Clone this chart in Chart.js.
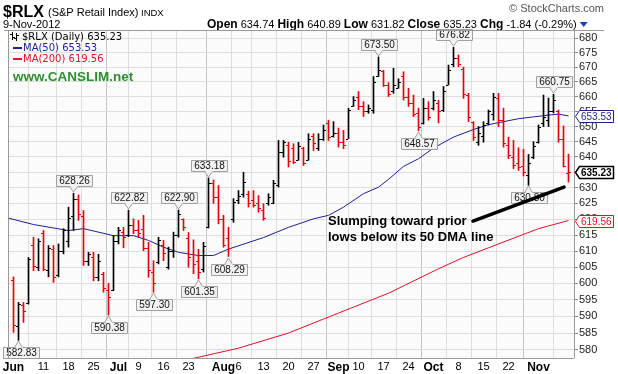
<!DOCTYPE html>
<html><head><meta charset="utf-8">
<script src="https://cdn.jsdelivr.net/npm/chart.js@4.4.1/dist/chart.umd.min.js"></script>
<style>html,body{margin:0;padding:0;background:#fff}canvas{display:block}</style>
</head><body>
<canvas id="c" width="618" height="374"></canvas>
<script>
// ---------- data ----------
const dates = [
 'Jun 1','Jun 4','Jun 5','Jun 6','Jun 7','Jun 8','Jun 11','Jun 12','Jun 13','Jun 14','Jun 15','Jun 18','Jun 19','Jun 20','Jun 21','Jun 22','Jun 25','Jun 26','Jun 27','Jun 28','Jun 29',
 'Jul 2','Jul 3','Jul 5','Jul 6','Jul 9','Jul 10','Jul 11','Jul 12','Jul 13','Jul 16','Jul 17','Jul 18','Jul 19','Jul 20','Jul 23','Jul 24','Jul 25','Jul 26','Jul 27','Jul 30','Jul 31',
 'Aug 1','Aug 2','Aug 3','Aug 6','Aug 7','Aug 8','Aug 9','Aug 10','Aug 13','Aug 14','Aug 15','Aug 16','Aug 17','Aug 20','Aug 21','Aug 22','Aug 23','Aug 24','Aug 27','Aug 28','Aug 29','Aug 30','Aug 31',
 'Sep 4','Sep 5','Sep 6','Sep 7','Sep 10','Sep 11','Sep 12','Sep 13','Sep 14','Sep 17','Sep 18','Sep 19','Sep 20','Sep 21','Sep 24','Sep 25','Sep 26','Sep 27','Sep 28',
 'Oct 1','Oct 2','Oct 3','Oct 4','Oct 5','Oct 8','Oct 9','Oct 10','Oct 11','Oct 12','Oct 15','Oct 16','Oct 17','Oct 18','Oct 19','Oct 22','Oct 23','Oct 24','Oct 25','Oct 26','Oct 31',
 'Nov 1','Nov 2','Nov 5','Nov 6','Nov 7','Nov 8','Nov 9'];

const openP = [601,587,593.5,594,612,605,615.5,604,610.5,602.5,610,613,621,626.5,621,607,608,602,603,598,598,
 613,616,615,618,616.5,617,611,603.5,606.5,612,605,610,615,620,614,609,607,604.5,617.4,631.5,627,
 620,614,620,626,628,628,626,625,623,625,625,631,641.5,644,643,639,643,639,647,643,646,651,647,
 648,645,646,657,660,657,655,655.5,667,668.5,664,662,663,667,660,658,654.5,651,656,
 656,658,655.5,664,671,673,669.5,660.5,651.5,645,647,651,654,659.5,652,644,640,638,637,634,640,
 645,651,652,655,655,646,634.74];
const highP = [602,594.2,594.2,608,614.3,613.8,616.4,611.7,611.7,612.2,617,623.8,628.26,627.7,622.7,609.6,609.6,609,603.4,600,614.8,
 617.4,617.4,622.82,620.1,619.6,621.2,612.7,607,614.3,613.3,611.2,615.9,622.9,620.1,615.8,613.5,610.5,612.7,633.18,632.5,630.7,
 621.2,617.4,626.5,629.1,635,628.9,629.1,627.5,624.9,628.1,632.4,645.4,645.4,644.8,644.3,644.8,643.2,647.6,647.6,647.6,650.5,652.1,651.6,
 649.5,648.7,656.1,660,661.7,658.3,657.2,666.8,673.5,668.9,664.7,669.6,666,668.4,662.8,660.5,656.1,659.4,658.3,
 661.7,658.8,663.4,670.7,676.82,674.2,670,661.1,651.6,650,651.6,655.5,661.1,661.1,656.1,646.5,645.4,643,642.5,640.8,645,
 650.5,660.5,659.5,660.75,655.5,650.2,640.89];
const lowP = [585.2,582.83,588.2,593.7,603.9,603.9,603.9,602,600.3,602,609.1,611.2,616.4,619.6,605.5,605.5,600.8,600.8,597.3,590.38,597.8,
 612.2,611,614.5,615.4,614.3,610.1,601.9,597.3,606,607,604.4,608,614.3,616.4,605,603,601.35,603.5,617.2,625,618.5,
 611.2,608.29,619,624.9,627,623.8,623.8,622.2,619.6,624.4,624.9,630.2,639.9,636.7,637.8,638.9,637.2,638.9,642.1,642.1,645.4,645.4,646.5,
 643.2,642.7,646,656.7,655.6,653.3,654.4,654.4,666.8,663.4,660,661.1,662.8,658.8,656.7,653.3,648.57,650.8,652.1,
 655.5,651.2,655,663.9,670.1,670.1,659.4,651.6,645.4,643.8,644.8,650.5,652.1,650,643.2,639.4,636.2,635.6,633.8,630.8,639.4,
 644.5,650,650,654.5,644.8,636.7,631.82];
const closeP = [587.5,593.7,591.5,607.5,605.5,613,604.5,611,602,610,616.5,620.5,626.5,621.5,607,609,602,607,598.5,596,613,
 616.5,614.5,618,616.5,615.5,611,604,600,613.5,609.5,610,615,621.5,617.5,608,606,603.5,611.5,631.5,627,620,
 612,611,625.5,627.5,632,625,624.5,623.5,620.5,627,631.5,641.5,644.8,638.5,638.2,643.5,638,646,644.5,646,649,646.5,648,
 645,644,655.5,659,657,655,656,665,669,664,661,664,665,660,658,654,650,656,653,
 659,655,662,669,673,671,661,653,646.5,648,650.5,655,660,652,644.5,640.5,637.5,636.8,635,638,643.5,
 650,653,655,659,646,637.07,635.23];

// moving averages ([day index, value])
const ma50Idx = [-1,4,11,14,20,24,27,30,33,37,40,43,50,55,60,63,66,70,73,75,78,81,84,88,92,95,98,101,104,107,109,111];
const ma50Val = [620.3,618.3,616.4,617.0,614.8,614.8,613.3,611.2,609.6,608.6,608.6,610.6,614.2,617.4,620.1,621.2,623.8,628.1,630.2,632.7,636.9,639.4,642.9,646.5,649.0,650.6,651.6,652.6,653.2,653.8,654.1,653.53];
const ma200Idx = [36,45,55,65,75,85,90,95,100,105,111];
const ma200Val = [577.5,580.5,585,591,597,604.5,608,611,614,617,619.56];

const yTicks = [580,585,590,595,600,605,610,615,620,625,630,635,640,645,650,655,660,665,670,675,680];
const xTickIdx = [0,6,11,16,21,25,30,35,42,45,50,55,60,65,69,74,79,84,89,94,99,105];
const xTickText = ['Jun','11','18','25','Jul','9','16','23','Aug','6','13','20','27','Sep','10','17','24','Oct','8','15','22','Nov'];
const monthTicks = ['Jun','Jul','Aug','Sep','Oct','Nov'];

// price annotations (bar index, which end)
const noteIdx  = [1,12,19,23,28,33,37,39,43,73,81,88,103,108];
const noteSide = ['low','high','low','high','low','high','low','high','low','high','low','high','low','high'];
// hand drawn trend line (day index, price)
const trendIdx = [91.9,110.1];
const trendVal = [619.4,630.2];

const last = closeP.length-1;
const upColor = '#000000', downColor = '#e8000b';
const barColors = closeP.map((c,i)=> (i===0 ? c>=openP[0] : c>=closeP[i-1]) ? upColor : downColor);
const FONT = '"Liberation Sans", Arial, sans-serif';

// ---------- plugins ----------
const bgPlugin = {
  id:'bg',
  beforeDraw(chart){
    const {ctx, chartArea:a} = chart;
    ctx.save();
    ctx.fillStyle='#ffffff'; ctx.fillRect(0,0,chart.width,chart.height);
    ctx.fillStyle='#fbfbfb'; ctx.fillRect(a.left,a.top,a.right-a.left,a.bottom-a.top);
    ctx.restore();
  }
};

const ohlcTicks = {
  id:'ohlcTicks',
  afterDatasetsDraw(chart){
    const {ctx, scales:{x,y}} = chart;
    ctx.save();
    for(let i=0;i<closeP.length;i++){
      const px = Math.floor(x.getPixelForValue(i));
      ctx.fillStyle = barColors[i];
      const yo = Math.round(y.getPixelForValue(openP[i]));
      const yc = Math.round(y.getPixelForValue(closeP[i]));
      ctx.fillRect(px-2, yo, 2, 1);
      ctx.fillRect(px+1, yc, 2, 1);
    }
    ctx.restore();
  }
};

const notesPlugin = {
  id:'notes',
  afterDatasetsDraw(chart){
    const {ctx, scales:{x,y}, chartArea:a} = chart;
    ctx.save();
    ctx.font = '10px '+FONT;
    ctx.textBaseline='middle'; ctx.textAlign='center';
    noteIdx.forEach((idx,k)=>{
      const val = noteSide[k]==='high' ? highP[idx] : lowP[idx];
      const txt = val.toFixed(2);
      const px = Math.floor(x.getPixelForValue(idx))+0.5;
      const py = y.getPixelForValue(val);
      const w = Math.round(ctx.measureText(txt).width)+5, h = 11;
      let bx = Math.round(px - w/2);
      if (bx < a.left-6) bx = a.left-6;
      let by, tipY, baseY;
      if(noteSide[k]==='high'){ by = Math.round(py) - 7 - h; baseY = by+h; tipY = Math.round(py)-1; }
      else { by = Math.round(py) + 7; baseY = by; tipY = Math.round(py)+1; }
      ctx.fillStyle='#f2f2f2'; ctx.strokeStyle='#a0a0a0'; ctx.lineWidth=1;
      ctx.beginPath(); ctx.moveTo(px-4,baseY+0.5); ctx.lineTo(px,tipY); ctx.lineTo(px+4,baseY+0.5); ctx.closePath();
      ctx.fill(); ctx.stroke();
      ctx.beginPath(); ctx.rect(bx+0.5,by+0.5,w,h); ctx.fill(); ctx.stroke();
      ctx.fillStyle='#f2f2f2'; ctx.fillRect(px-3, noteSide[k]==='high'? baseY-1: baseY, 7, 2);
      ctx.fillStyle='#111';
      ctx.fillText(txt, bx+w/2+0.5, by+h/2+1);
    });
    // trend line
    ctx.strokeStyle='#000'; ctx.lineWidth=3.5; ctx.lineCap='round';
    ctx.beginPath();
    ctx.moveTo(x.getPixelForValue(trendIdx[0]), y.getPixelForValue(trendVal[0]));
    ctx.lineTo(x.getPixelForValue(trendIdx[1]), y.getPixelForValue(trendVal[1]));
    ctx.stroke();
    // comment text
    ctx.fillStyle='#000'; ctx.textAlign='left'; ctx.textBaseline='alphabetic';
    ctx.font='bold 13px '+FONT;
    ctx.fillText('Slumping toward prior', 328, 225);
    ctx.fillText('lows below its 50 DMA line', 328, 241);
    ctx.restore();
  }
};

const framePlugin = {
  id:'frame',
  afterDraw(chart){
    const {ctx, chartArea:a, scales:{y}} = chart;
    ctx.save();
    // header
    ctx.fillStyle='#000'; ctx.textBaseline='alphabetic'; ctx.textAlign='left';
    ctx.font='bold 16px '+FONT;
    ctx.fillText('$RLX', 3, 17);
    ctx.font='11px '+FONT;
    ctx.fillText('(S&P Retail Index)', 48, 16);
    ctx.font='9.5px '+FONT;
    ctx.fillText('INDX', 141, 16);
    ctx.fillStyle='#555'; ctx.font='11px '+FONT; ctx.textAlign='right';
    ctx.fillText('\u00a9 StockCharts.com', 604, 12);
    ctx.textAlign='left'; ctx.fillStyle='#000';
    ctx.font='11px '+FONT;
    ctx.fillText('9-Nov-2012', 3, 28);
    const parts = [['Open',true],[' 634.74 ',false],['High',true],[' 640.89 ',false],['Low',true],[' 631.82 ',false],['Close',true],[' 635.23 ',false],['Chg',true],[' -1.84 (-0.29%)',false]];
    let tx = 207;
    parts.forEach(([t,b])=>{ ctx.font=(b?'bold 12px ':'11px ')+FONT; ctx.fillText(t,tx,28); tx+=ctx.measureText(t).width; });
    ctx.fillStyle='#1a3cc8'; ctx.beginPath(); ctx.moveTo(tx+3,22); ctx.lineTo(tx+11,22); ctx.lineTo(tx+7,27); ctx.closePath(); ctx.fill();
    // frame lines
    ctx.strokeStyle='#9a9a9a'; ctx.lineWidth=1;
    ctx.beginPath(); ctx.moveTo(4,a.top+0.5); ctx.lineTo(604,a.top+0.5); ctx.stroke();
    ctx.beginPath(); ctx.moveTo(a.left-0.5,a.top); ctx.lineTo(a.left-0.5,a.bottom); ctx.stroke();
    ctx.beginPath(); ctx.moveTo(a.right+0.5,a.top); ctx.lineTo(a.right+0.5,a.bottom); ctx.stroke();
    ctx.beginPath(); ctx.moveTo(a.left,a.bottom+0.5); ctx.lineTo(a.right,a.bottom+0.5); ctx.stroke();
    // legend
    ctx.font='10px "DejaVu Sans", Verdana, sans-serif'; ctx.textBaseline='middle';
    ctx.fillStyle='#000';
    ctx.fillRect(12,32,1,8); ctx.fillRect(10,34,2,1); ctx.fillRect(13,37,2,1);
    ctx.fillRect(16,33,1,8); ctx.fillRect(14,38,2,1); ctx.fillRect(17,35,2,1);
    ctx.fillText('$RLX (Daily) '+closeP[last].toFixed(2), 22, 37);
    ctx.fillStyle='#1f1f8f'; ctx.fillRect(13,47,9,2);
    ctx.fillText('MA(50) '+ma50Val[ma50Val.length-1].toFixed(2), 23, 48);
    ctx.fillStyle='#e0102a'; ctx.fillRect(13,58,9,2);
    ctx.fillText('MA(200) '+ma200Val[ma200Val.length-1].toFixed(2), 23, 59);
    ctx.fillStyle='#2f8f2f'; ctx.font='bold 13.5px '+FONT;
    ctx.fillText('www.CANSLIM.net', 13, 77);
    // right axis value tags
    const tags = [[ma50Val[ma50Val.length-1],'#1f1f8f',false],[closeP[last],'#000',true],[ma200Val[ma200Val.length-1],'#e0102a',false]];
    tags.forEach(([v,col,b])=>{
      const yy = Math.round(y.getPixelForValue(v))+0.5;
      const x0 = a.right+1.5, x1 = x0+4;
      ctx.font=(b?'bold 10px ':'10px ')+FONT;
      const x2 = Math.round(x1 + ctx.measureText(v.toFixed(2)).width + 3) + 0.5;
      ctx.beginPath(); ctx.moveTo(x0,yy); ctx.lineTo(x1,yy-6); ctx.lineTo(x2,yy-6); ctx.lineTo(x2,yy+6); ctx.lineTo(x1,yy+6); ctx.closePath();
      ctx.fillStyle='#fff'; ctx.fill(); ctx.strokeStyle=col; ctx.lineWidth=b?1.5:1; ctx.stroke();
      ctx.fillStyle= b? '#000': col;
      ctx.textBaseline='middle'; ctx.textAlign='left';
      ctx.fillText(v.toFixed(2), x1+1.5, yy+0.5);
    });
    ctx.restore();
  }
};

// ---------- chart ----------
const ohlcRange = closeP.map((c,i)=>({x:i, y:[lowP[i], highP[i]]}));
const ma50Pts = ma50Idx.map((d,k)=>({x:d, y:ma50Val[k]}));
const ma200Pts = ma200Idx.map((d,k)=>({x:d, y:ma200Val[k]}));

new Chart(document.getElementById('c'), {
  type:'bar',
  data:{
    datasets:[
      {type:'line', label:'MA(200)', data:ma200Pts, borderColor:'#e0102a', borderWidth:1, pointRadius:0, tension:0, order:3},
      {type:'line', label:'MA(50)', data:ma50Pts, borderColor:'#1f1f8f', borderWidth:1, pointRadius:0, tension:0, order:2},
      {type:'bar', label:'$RLX', data:ohlcRange, backgroundColor:barColors, borderWidth:0, barThickness:1, grouped:false, order:1}
    ]
  },
  options:{
    responsive:false, animation:false, devicePixelRatio:1,
    layout:{padding:{left:9, top:30, right:0, bottom:0}},
    plugins:{legend:{display:false}, tooltip:{enabled:false}},
    scales:{
      x:{
        type:'linear', min:-0.9, max:112.1, offset:false,
        afterBuildTicks(s){ s.ticks = xTickIdx.map(v=>({value:v})); },
        afterFit(s){ s.height = 16; },
        ticks:{
          autoSkip:false, maxRotation:0, padding:2, color:'#000',
          callback:(v)=>{ const k = xTickIdx.indexOf(v); return k>=0 ? xTickText[k] : ''; },
          font:(ctx)=>{ const t = xTickText[ctx.index]; return monthTicks.includes(t) ? {family:FONT, size:12, weight:'bold'} : {family:FONT, size:11}; }
        },
        grid:{ drawTicks:false, color:(ctx)=>{ const t = xTickText[ctx.index]; return monthTicks.includes(t) ? '#c4c4c4' : '#dedede'; } },
        border:{display:false}
      },
      y:{
        type:'logarithmic', position:'right', min:577.6, max:682.8,
        afterBuildTicks(s){ s.ticks = yTicks.map(v=>({value:v})); },
        afterFit(s){ s.width = 44; },
        ticks:{ color:'#222', padding:1, font:{family:FONT, size:11}, callback:(v)=>String(v) },
        grid:{ color:'#dedede', tickLength:4, tickColor:'#888' },
        border:{display:false}
      }
    }
  },
  plugins:[bgPlugin, ohlcTicks, notesPlugin, framePlugin]
});
</script>
</body></html>
